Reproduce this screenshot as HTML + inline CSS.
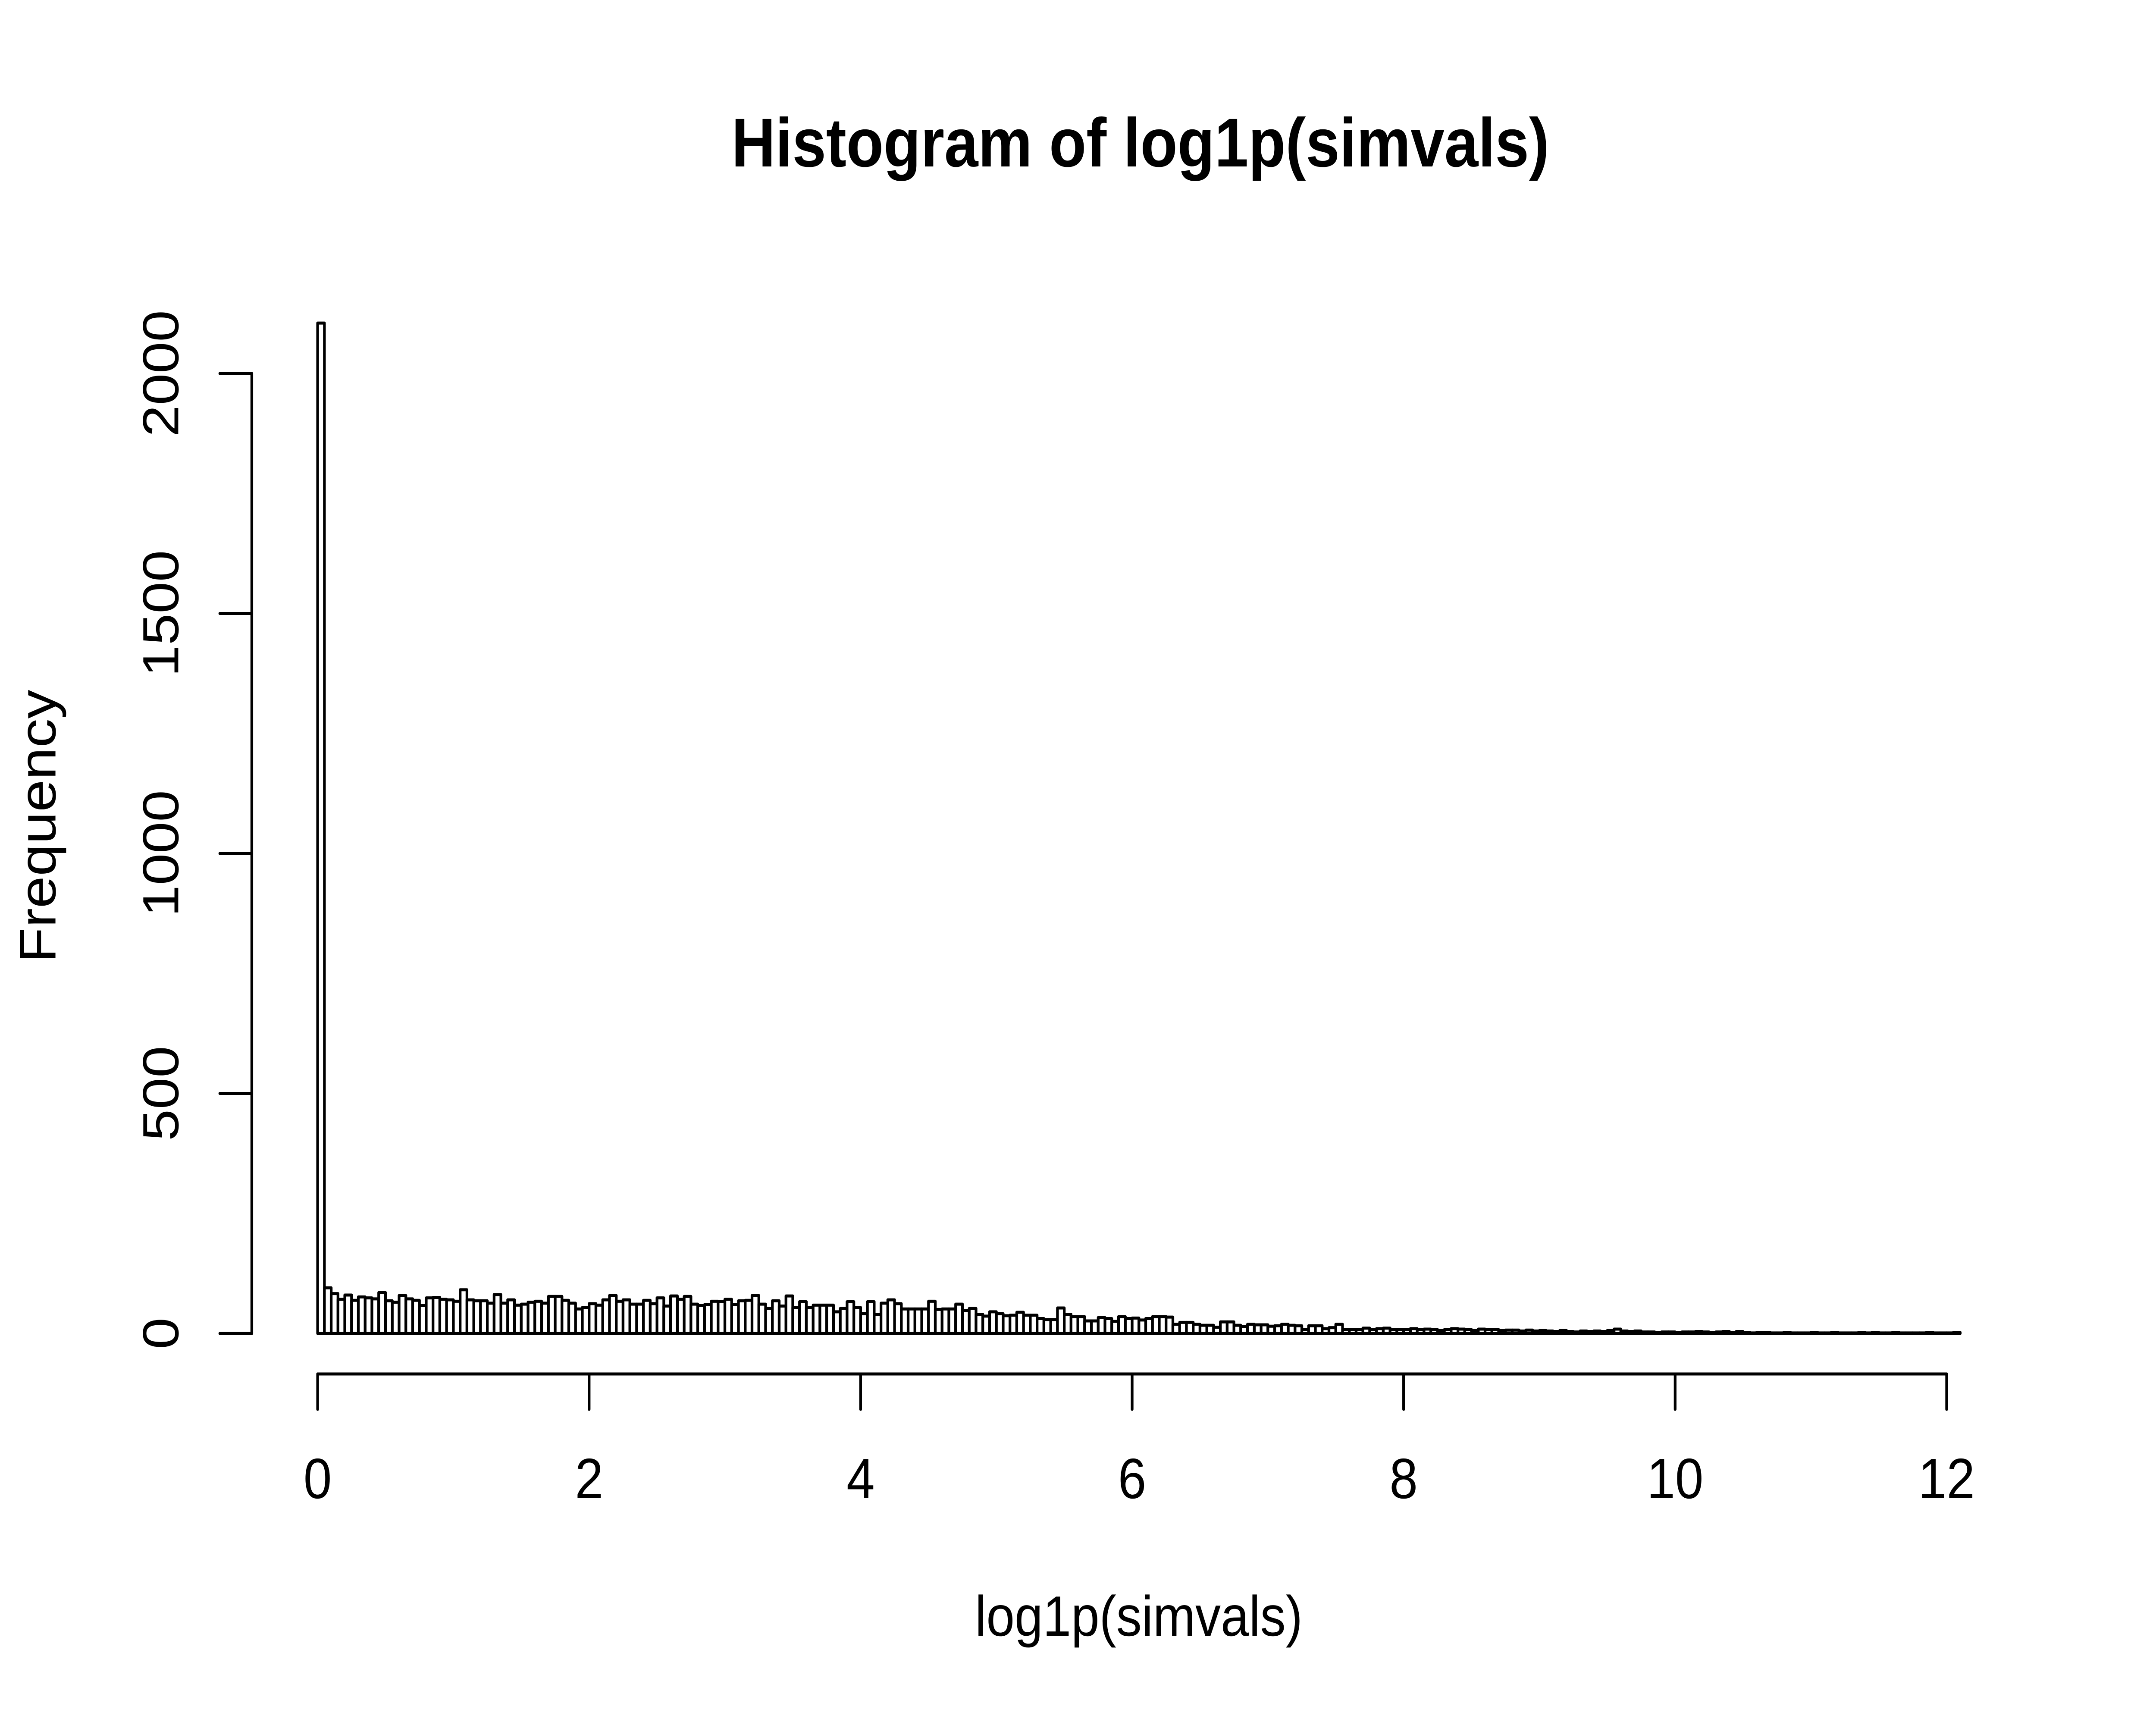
<!DOCTYPE html>
<html><head><meta charset="utf-8"><style>
html,body{margin:0;padding:0;background:#fff;width:100%;height:100%;overflow:hidden;}
svg{display:block;position:absolute;left:0;top:0;width:100vw;height:100vh;}
text{font-family:"Liberation Sans",Arial,sans-serif;fill:#000;}
</style></head><body>
<svg id="chart" viewBox="0 0 5600 4000" preserveAspectRatio="none" xmlns="http://www.w3.org/2000/svg">
<rect width="5600" height="4000" fill="#fff"/>
<text x="2962" y="386" font-size="160" font-weight="bold" text-anchor="middle" textLength="2124" lengthAdjust="spacingAndGlyphs">Histogram of log1p(simvals)</text>
<text x="2958" y="3793" font-size="132" text-anchor="middle">log1p(simvals)</text>
<text x="0" y="0" font-size="134" text-anchor="middle" transform="translate(144,1916) rotate(-90)">Frequency</text>
<g id="bars"></g>
<g id="axes"></g>
</svg>
<script>
const binStart = 0;
const binWidth = 0.05;
const counts = [2105,95,83,71,80,69,76,74,72,85,68,65,79,72,69,58,74,75,71,70,67,91,70,68,68,63,81,63,70,59,61,65,67,63,77,77,69,63,51,54,62,59,70,79,67,70,61,61,69,62,74,57,78,71,77,61,58,60,67,66,71,
60,68,69,79,61,52,68,57,78,54,66,54,59,59,59,45,52,66,54,41,66,40,63,70,62,51,51,51,51,67,50,51,51,61,48,52,40,36,45,41,37,38,44,38,38,31,29,29,53,40,35,35,26,26,33,31,25,35,31,32,
28,31,35,35,34,19,23,23,19,17,17,13,24,24,17,14,19,18,18,15,16,19,17,16,8,16,16,10,12,19,
8,8,8,11,8,10,11,8,8,8,10,8,9,8,6,8,10,9,8,6,9,8,8,6,7,7,5,7,5,6,
5,4,6,4,3,5,4,5,4,6,9,5,4,5,3,3,2,3,3,2,3,3,4,3,2,3,4,2,4,2,1,2,2,1,1,2,1,1,1,2,1,1,2,1,1,1,2,1,2,1,1,2,1,1,1,1,2,1,1,1,2];
const xTicks = [0,2,4,6,8,10,12];
const yTicks = [0,500,1000,1500,2000];

const X0 = 825, XPU = 352.6, Y0 = 3092, YPU = 1.113;
function sx(v){ return X0 + v*XPU; }
function sy(v){ return Y0 - v*YPU; }
const NS = "http://www.w3.org/2000/svg";
const barsG = document.getElementById('bars');
const axesG = document.getElementById('axes');

counts.forEach((c,i)=>{
  const a = binStart + i*binWidth, b = a + binWidth;
  const r = document.createElementNS(NS,'rect');
  r.setAttribute('x', sx(a)); r.setAttribute('y', sy(c));
  r.setAttribute('width', sx(b)-sx(a)); r.setAttribute('height', Math.max(0, sy(0)-sy(c)));
  r.setAttribute('fill','#fff'); r.setAttribute('stroke','#000'); r.setAttribute('stroke-width','7');
  r.setAttribute('stroke-linejoin','round');
  
  
  barsG.appendChild(r);
});

function line(x1,y1,x2,y2,name){
  const l = document.createElementNS(NS,'line');
  l.setAttribute('x1',x1); l.setAttribute('y1',y1); l.setAttribute('x2',x2); l.setAttribute('y2',y2);
  l.setAttribute('stroke','#000'); l.setAttribute('stroke-width','7'); l.setAttribute('stroke-linecap','round');
  
  
  axesG.appendChild(l);
}
function txt(x,y,s,name,tr){
  const t = document.createElementNS(NS,'text');
  t.setAttribute('x',x); t.setAttribute('y',y); t.setAttribute('font-size','132');
  t.setAttribute('text-anchor','middle');
  if(tr) t.setAttribute('transform',tr);
  t.textContent = s;
  
  
  axesG.appendChild(t);
}
const XAY = 3186;
line(sx(xTicks[0]), XAY, sx(xTicks[xTicks.length-1]), XAY, 'x-axis-line');
xTicks.forEach(v=>{
  line(sx(v), XAY, sx(v), XAY+82, 'x-axis-tick');
  txt(sx(v), 3474, String(v), 'x-tick-label');
});
const YAX = 654;
line(YAX, sy(yTicks[0]), YAX, sy(yTicks[yTicks.length-1]), 'y-axis-line');
yTicks.forEach(v=>{
  line(YAX, sy(v), YAX-83, sy(v), 'y-axis-tick');
  txt(0, 0, String(v), 'y-tick-label', 'translate(463,'+sy(v)+') rotate(-90)');
});
</script>
</body></html>
